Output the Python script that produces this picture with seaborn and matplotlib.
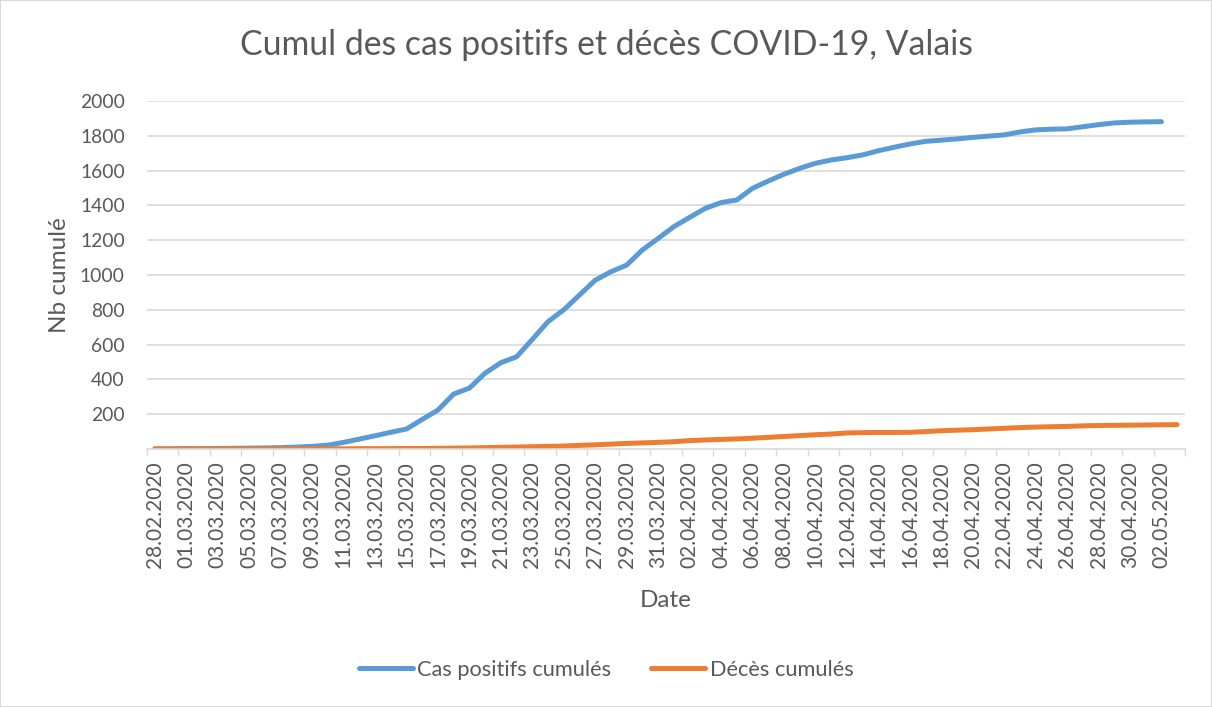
import pandas as pd
import matplotlib.pyplot as plt
from matplotlib.patches import Rectangle
import seaborn as sns

# daily dates 28.02.2020 - 03.05.2020
dates = (["28.02.2020", "29.02.2020"]
         + ["%02d.03.2020" % d for d in range(1, 32)]
         + ["%02d.04.2020" % d for d in range(1, 31)]
         + ["01.05.2020", "02.05.2020", "03.05.2020"])

cas_positifs = [1, 1, 2, 2, 3, 4, 5, 6, 8, 11,
                15, 22, 38, 57, 76, 96, 115, 170, 224, 316,
                350, 436, 496, 530, 630, 732, 800, 885, 970, 1019,
                1057, 1144, 1210, 1278, 1331, 1383, 1416, 1431, 1498, 1540,
                1579, 1613, 1642, 1661, 1674, 1690, 1714, 1734, 1753, 1768,
                1775, 1782, 1791, 1798, 1805, 1822, 1834, 1838, 1840, 1852,
                1864, 1874, 1878, 1880, 1881]

deces = [0, 0, 0, 0, 0, 0, 0, 0, 0, 0,
         1, 1, 1, 2, 2, 2, 3, 3, 4, 5,
         6, 8, 10, 11, 13, 15, 17, 21, 24, 28,
         32, 35, 38, 42, 48, 52, 55, 58, 62, 67,
         72, 77, 82, 86, 92, 94, 95, 95, 96, 100,
         105, 108, 111, 115, 119, 123, 126, 128, 130, 133,
         135, 136, 137, 138, 139, 140]

series_names = ["Cas positifs cumulés", "Décès cumulés"]
colors = ["#5B9BD5", "#ED7D31"]

df = pd.concat([
    pd.DataFrame({"pos": range(len(cas_positifs)), "val": cas_positifs, "serie": series_names[0]}),
    pd.DataFrame({"pos": range(len(deces)), "val": deces, "serie": series_names[1]}),
])

sns.set_theme(style="white")
plt.rcParams["font.family"] = ["Lato", "DejaVu Sans"]
txt = "#595959"
grid = "#D9D9D9"

fig = plt.figure(figsize=(12.12, 7.07), dpi=100)
ax = fig.add_axes([147 / 1212, 1 - 449 / 707, (1185 - 147) / 1212, (449 - 101) / 707])

sns.lineplot(data=df, x="pos", y="val", hue="serie", palette=colors,
             linewidth=3.6, ax=ax, legend=False, sort=False,
             solid_capstyle="round", solid_joinstyle="round")

ax.set_xlim(-0.5, len(dates) - 0.5)
ax.set_ylim(0, 2000)
ax.set_yticks(range(200, 2001, 200))
ax.yaxis.grid(True, color=grid, linewidth=1.2)
ax.set_axisbelow(True)

ax.set_xticks(range(0, len(dates), 2))
ax.set_xticklabels(dates[::2], rotation=90)
ax.set_xticks([i - 0.5 for i in range(0, len(dates) + 1, 2)], minor=True)
ax.tick_params(axis="x", which="major", length=0, pad=9, labelsize=15, colors=txt)
ax.tick_params(axis="x", which="minor", bottom=True, length=5, width=1, color=grid)
ax.tick_params(axis="y", length=0, pad=16, labelsize=13.9, colors=txt)

for s in ["left", "right", "top"]:
    ax.spines[s].set_visible(False)
ax.spines["bottom"].set_color(grid)
ax.spines["bottom"].set_linewidth(1.2)

ax.set_xlabel("Date", fontsize=17.5, color=txt, labelpad=16)
ax.set_ylabel("Nb cumulé", fontsize=17.5, color=txt, labelpad=7)

fig.text(0.5, 1 - 45 / 707, "Cumul des cas positifs et décès COVID-19, Valais",
         ha="center", va="center", fontsize=24.3, color=txt)

handles = [plt.Line2D([], [], color=c, linewidth=3.6) for c in colors]
fig.legend(handles, series_names, loc="center", bbox_to_anchor=(0.5, 1 - 670 / 707),
           ncol=2, frameon=False, fontsize=15.7, handlelength=2.5, columnspacing=1.8,
           handletextpad=0.2, labelcolor=txt)

fig.patches.append(Rectangle((0, 0), 1, 1, transform=fig.transFigure, fill=False,
                             edgecolor=grid, linewidth=1.5))

fig.savefig("out.png", dpi=100, facecolor="white")
